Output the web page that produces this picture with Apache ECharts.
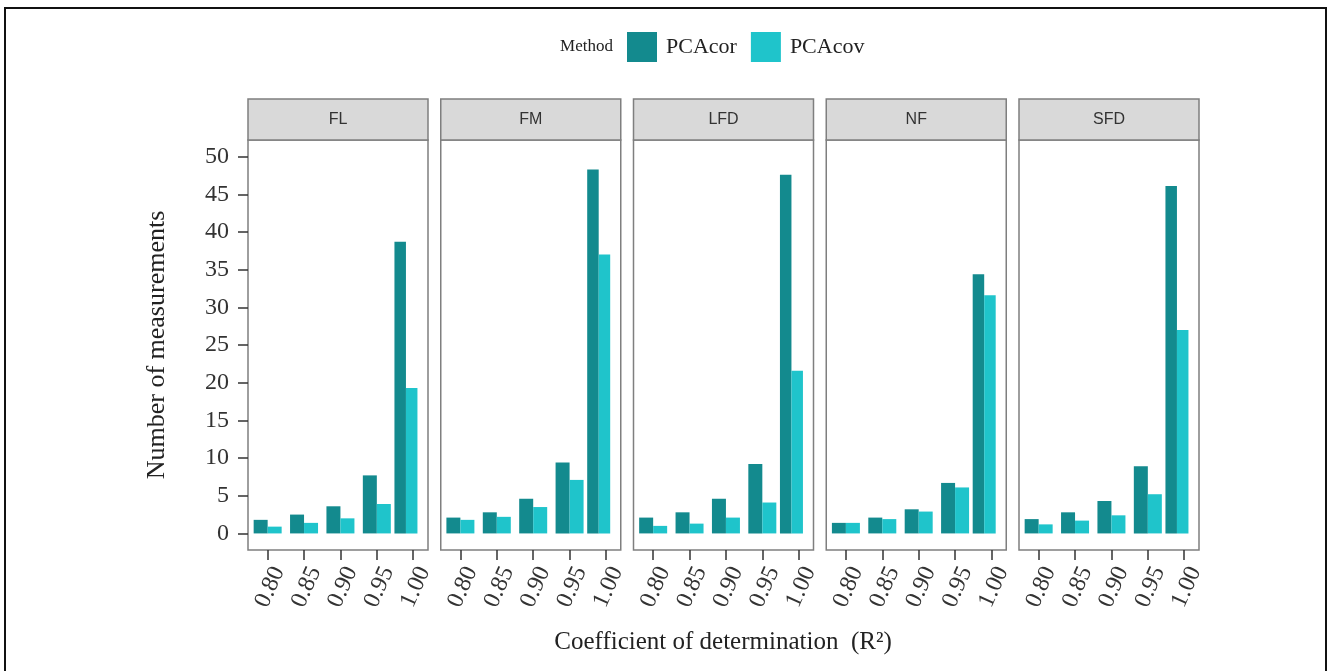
<!DOCTYPE html>
<html>
<head>
<meta charset="utf-8">
<script src="https://cdn.jsdelivr.net/npm/echarts@6/dist/echarts.min.js"></script>
<style>
html,body{margin:0;padding:0;background:#fff;}
#chart{width:1331px;height:671px;}
</style>
</head>
<body>
<div id="chart"></div>
<script>
// ---- data ----
const panels = ['FL', 'FM', 'LFD', 'NF', 'SFD'];
const binCenters = [0.80, 0.85, 0.90, 0.95, 0.99];
const xTickValues = [0.80, 0.85, 0.90, 0.95, 1.00];
const yTickValues = [0, 5, 10, 15, 20, 25, 30, 35, 40, 45, 50];
const methods = ['PCAcor', 'PCAcov'];
const pcacorFL  = [1.8, 2.5, 3.6, 7.7, 38.7];
const pcacovFL  = [0.9, 1.4, 2.0, 3.9, 19.3];
const pcacorFM  = [2.1, 2.8, 4.6, 9.4, 48.3];
const pcacovFM  = [1.8, 2.2, 3.5, 7.1, 37.0];
const pcacorLFD = [2.1, 2.8, 4.6, 9.2, 47.6];
const pcacovLFD = [1.0, 1.3, 2.1, 4.1, 21.6];
const pcacorNF  = [1.4, 2.1, 3.2, 6.7, 34.4];
const pcacovNF  = [1.4, 1.9, 2.9, 6.1, 31.6];
const pcacorSFD = [1.9, 2.8, 4.3, 8.9, 46.1];
const pcacovSFD = [1.2, 1.7, 2.4, 5.2, 27.0];

const corByPanel = [pcacorFL, pcacorFM, pcacorLFD, pcacorNF, pcacorSFD];
const covByPanel = [pcacovFL, pcacovFM, pcacovLFD, pcacovNF, pcacovSFD];

// ---- layout / style ----
const colors = ['#138a8e', '#1fc4cb'];
const serif = 'Liberation Serif';
const sans = 'Liberation Sans';
const panelLeft0 = 248, panelPitch = 192.75, panelW = 180;
const panelTop = 140, panelH = 410;
const stripTop = 99, stripH = 41;
const xMin = 0.773, xMax = 1.0203;
const yMin = -2.2, yMax = 52.2;

const grids = [], xAxes = [], yAxes = [], series = [], graphics = [];

panels.forEach((name, i) => {
  const left = panelLeft0 + i * panelPitch;
  grids.push({
    left: left, top: panelTop, width: panelW, height: panelH,
    show: true, backgroundColor: '#ffffff', borderColor: '#7f7f7f', borderWidth: 1.5,
    containLabel: false
  });
  xAxes.push({
    type: 'value', gridIndex: i, min: xMin, max: xMax, position: 'bottom',
    axisLine: { show: false, onZero: false },
    splitLine: { show: false },
    axisTick: { show: true, customValues: xTickValues, length: 10, inside: false,
      lineStyle: { color: '#333', width: 1.5 } },
    axisLabel: {
      show: true, customValues: xTickValues, rotate: 66, margin: 13,
      verticalAlign: 'top',
      fontFamily: serif, fontSize: 24, color: '#333',
      formatter: v => v.toFixed(2)
    }
  });
  xAxes.push({
    type: 'value', gridIndex: i, min: xMin, max: xMax, show: false,
    axisLine: { onZero: false },
    splitLine: { show: false }
  });
  yAxes.push({
    type: 'value', gridIndex: i, min: yMin, max: yMax, position: 'left',
    show: i === 0,
    axisLine: { show: false, onZero: false },
    splitLine: { show: false },
    axisTick: { show: true, customValues: yTickValues, length: 10,
      lineStyle: { color: '#333', width: 1.5 } },
    axisLabel: { show: true, customValues: yTickValues, margin: 19,
      fontFamily: serif, fontSize: 24, color: '#333' }
  });

  const cor = corByPanel[i], cov = covByPanel[i];
  const n = binCenters.length;
  const mainCor = [], mainCov = [];
  for (let k = 0; k < n - 1; k++) {
    mainCor.push([binCenters[k], cor[k]]);
    mainCov.push([binCenters[k], cov[k]]);
  }
  series.push({ name: methods[0], type: 'bar', xAxisIndex: 2 * i, yAxisIndex: i,
    data: mainCor, barWidth: 14, barGap: '0%', itemStyle: { color: colors[0] } });
  series.push({ name: methods[1], type: 'bar', xAxisIndex: 2 * i, yAxisIndex: i,
    data: mainCov, barWidth: 14, barGap: '0%', itemStyle: { color: colors[1] } });
  series.push({ name: methods[0], type: 'bar', xAxisIndex: 2 * i + 1, yAxisIndex: i,
    data: [[binCenters[n - 1], cor[n - 1]]], barWidth: 11.5, barGap: '0%', itemStyle: { color: colors[0] } });
  series.push({ name: methods[1], type: 'bar', xAxisIndex: 2 * i + 1, yAxisIndex: i,
    data: [[binCenters[n - 1], cov[n - 1]]], barWidth: 11.5, barGap: '0%', itemStyle: { color: colors[1] } });

  graphics.push({
    type: 'rect', shape: { x: left, y: stripTop, width: panelW, height: stripH },
    style: { fill: '#d9d9d9', stroke: '#7f7f7f', lineWidth: 1.5 }, z: 10
  });
  graphics.push({
    type: 'text', x: left + panelW / 2, y: stripTop + stripH / 2,
    style: { text: name, fill: '#333', font: '16px "' + sans + '"',
      textAlign: 'center', textVerticalAlign: 'middle' }, z: 11
  });
});

graphics.push({ type: 'rect', shape: { x: 5, y: 8, width: 1321, height: 700 },
  style: { fill: 'none', stroke: '#111', lineWidth: 2 }, z: 0 });
graphics.push({ type: 'text', x: 613, y: 47,
  style: { text: 'Method', fill: '#222', font: '17px "' + serif + '"',
    textAlign: 'right', textVerticalAlign: 'middle' }, z: 11 });
graphics.push({ type: 'text', x: 157, y: 345, rotation: Math.PI / 2,
  style: { text: 'Number of measurements', fill: '#222', font: '26px "' + serif + '"',
    textAlign: 'center', textVerticalAlign: 'middle' }, z: 11 });
graphics.push({ type: 'text', x: 723, y: 642,
  style: { text: 'Coefficient of determination  (R\u00b2)', fill: '#222', font: '25px "' + serif + '"',
    textAlign: 'center', textVerticalAlign: 'middle' }, z: 11 });

const chart = echarts.init(document.getElementById('chart'), null, { renderer: 'canvas' });
chart.setOption({
  animation: false,
  backgroundColor: '#ffffff',
  legend: {
    data: methods, left: 627, top: 32, padding: 0, itemWidth: 30, itemHeight: 30, itemGap: 14,
    icon: 'rect', selectedMode: false,
    textStyle: { fontFamily: serif, fontSize: 22, color: '#222', padding: [0, 0, 0, 4] }
  },
  grid: grids,
  xAxis: xAxes,
  yAxis: yAxes,
  series: series,
  graphic: graphics
});
</script>
</body>
</html>
